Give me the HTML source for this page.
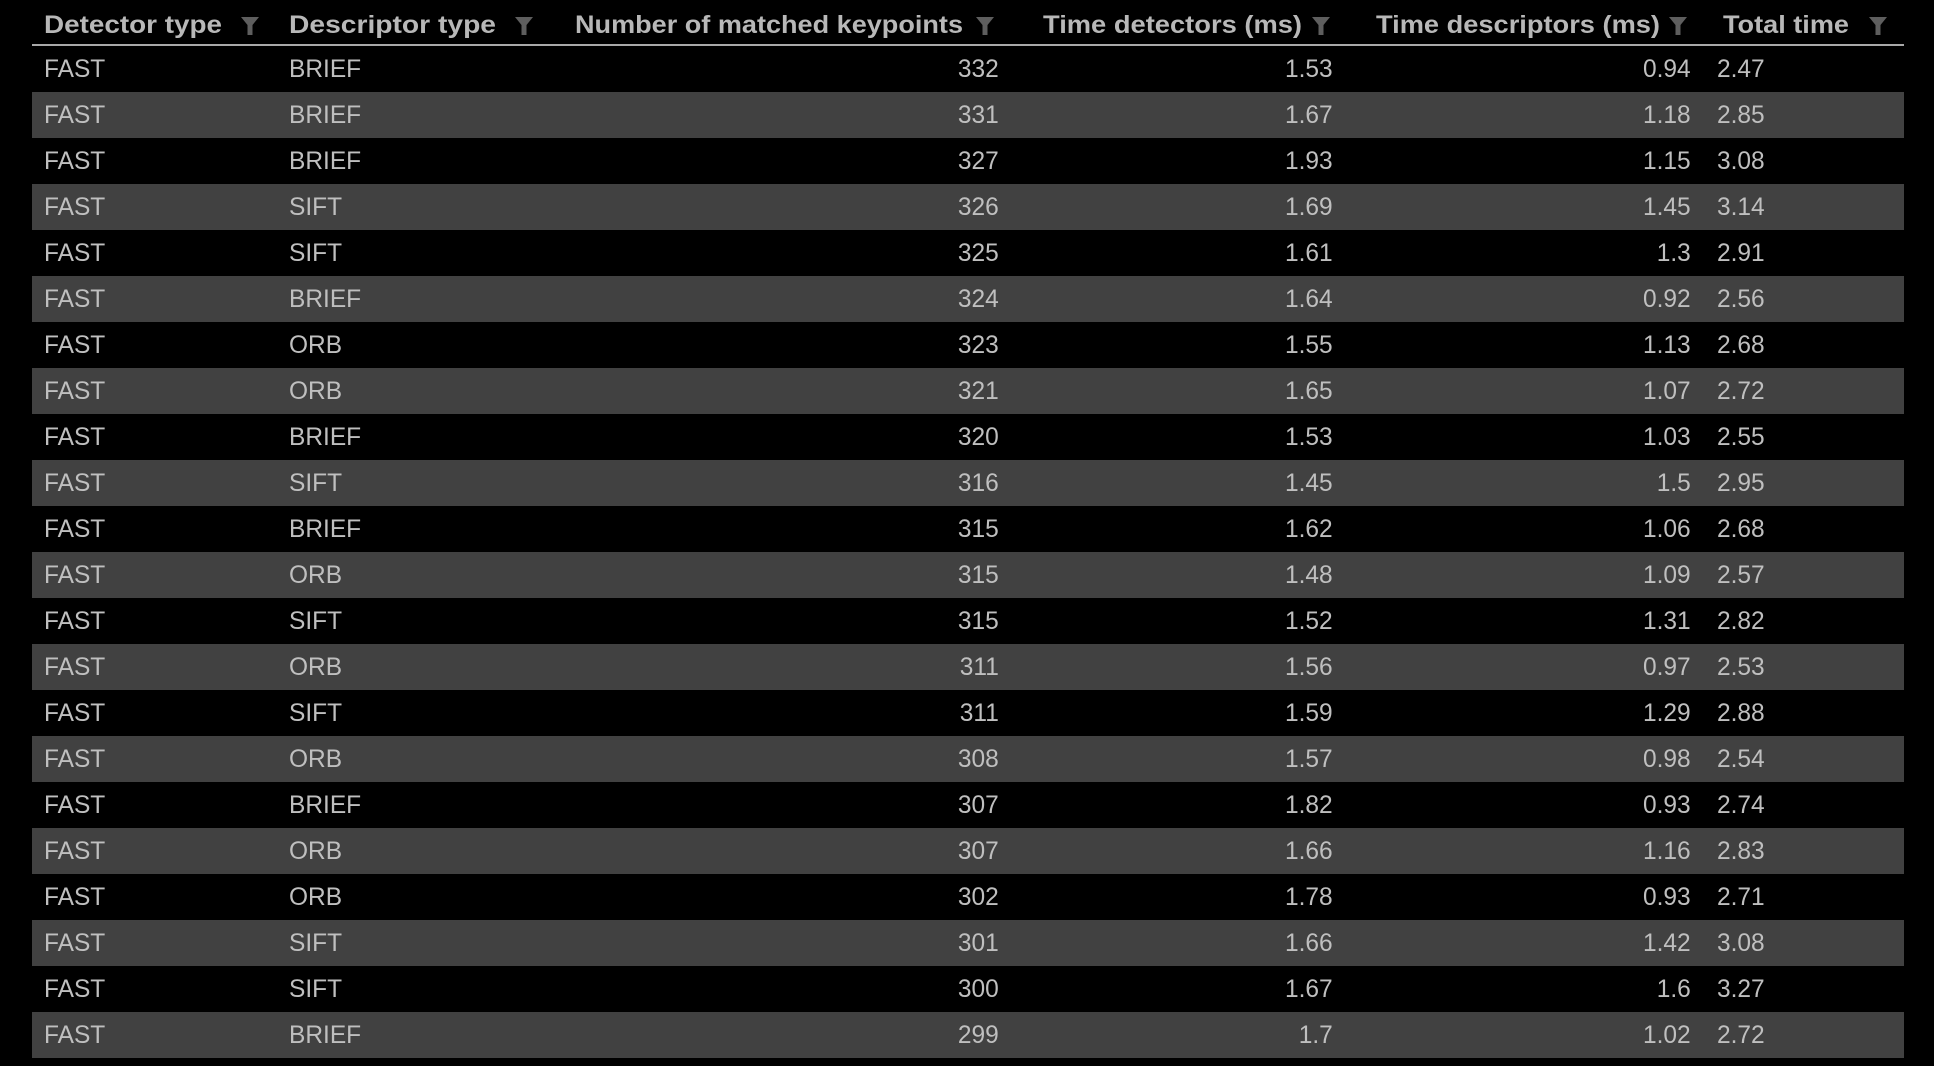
<!DOCTYPE html>
<html><head><meta charset="utf-8">
<style>
html,body{margin:0;padding:0;background:#000;width:1934px;height:1066px;overflow:hidden;}
#tbl{position:absolute;left:0;top:0;width:1934px;height:1066px;font-family:"Liberation Sans",sans-serif;}
.hd{position:absolute;top:10px;height:30px;line-height:30px;font-size:25px;font-weight:bold;color:#b8b8b8;white-space:nowrap;transform-origin:0 50%;}
.ic{position:absolute;top:16px;width:20px;height:20px;}
.row{position:absolute;left:32px;width:1872px;height:46px;}
.c{position:absolute;font-size:25px;line-height:46px;color:#bfbfbf;white-space:nowrap;transform-origin:0 50%;}
.r{text-align:right;transform-origin:100% 50%;}
</style></head>
<body>
<div id="tbl">
<div style="position:absolute;left:32px;top:44px;width:1872px;height:2px;background:#a8a8a8"></div>
</div>
<script>
const headers=["Detector type","Descriptor type","Number of matched keypoints","Time detectors (ms)","Time descriptors (ms)","Total time"];
const detectors=["FAST","FAST","FAST","FAST","FAST","FAST","FAST","FAST","FAST","FAST","FAST","FAST","FAST","FAST","FAST","FAST","FAST","FAST","FAST","FAST","FAST","FAST"];
const descriptors=["BRIEF","BRIEF","BRIEF","SIFT","SIFT","BRIEF","ORB","ORB","BRIEF","SIFT","BRIEF","ORB","SIFT","ORB","SIFT","ORB","BRIEF","ORB","ORB","SIFT","SIFT","BRIEF"];
const matched=[332,331,327,326,325,324,323,321,320,316,315,315,315,311,311,308,307,307,302,301,300,299];
const timeDet=["1.53","1.67","1.93","1.69","1.61","1.64","1.55","1.65","1.53","1.45","1.62","1.48","1.52","1.56","1.59","1.57","1.82","1.66","1.78","1.66","1.67","1.7"];
const timeDesc=["0.94","1.18","1.15","1.45","1.3","0.92","1.13","1.07","1.03","1.5","1.06","1.09","1.31","0.97","1.29","0.98","0.93","1.16","0.93","1.42","1.6","1.02"];
const totalTime=["2.47","2.85","3.08","3.14","2.91","2.56","2.68","2.72","2.55","2.95","2.68","2.57","2.82","2.53","2.88","2.54","2.74","2.83","2.71","3.08","3.27","2.72"];

const hx=[44,289,575,1043,1376,1723], hw=[178,207,388,259,284,126], icx=[240,514,975,1311,1668,1868];
const names=["detector-type","descriptor-type","matched-keypoints","time-detectors","time-descriptors","total-time"];
const tbl=document.getElementById('tbl');
headers.forEach((h,i)=>{
  const d=document.createElement('div');
  d.className='hd';d.textContent=h;d.style.left=hx[i]+'px';
  
  
  tbl.appendChild(d);
  const w=d.getBoundingClientRect().width;
  d.style.transform='scaleX('+(hw[i]/w)+')';
  const s=document.createElementNS('http://www.w3.org/2000/svg','svg');
  s.setAttribute('class','ic');s.style.left=icx[i]+'px';
  s.setAttribute('viewBox','0 0 20 20');
  s.innerHTML='<path d="M1 1H19L12.5 9V19H7.5V9Z" fill="#5e5e5e"/>';
  
  
  tbl.appendChild(s);
});
const rowTop=46,rowH=46;
detectors.forEach((_,i)=>{
  const r=document.createElement('div');
  r.className='row';r.style.top=(rowTop+i*rowH)+'px';
  r.style.background=i%2?'#414141':'#000';
  
  
  const cells=[[detectors[i],12,'l'],[descriptors[i],257,'l'],[String(matched[i]),967,'r'],[timeDet[i],1301,'r'],[timeDesc[i],1659,'r'],[totalTime[i],1685,'l']];
  cells.forEach((c,j)=>{
    const e=document.createElement('div');
    e.className='c'+(c[2]=='r'?' r':'');
    e.textContent=c[0];
    e.style.transform='scaleX(0.98)';
    if(c[2]=='r'){e.style.right=(1872-c[1])+'px';}else{e.style.left=c[1]+'px';}
    
    
    r.appendChild(e);
  });
  tbl.appendChild(r);
});
</script>
</body></html>
